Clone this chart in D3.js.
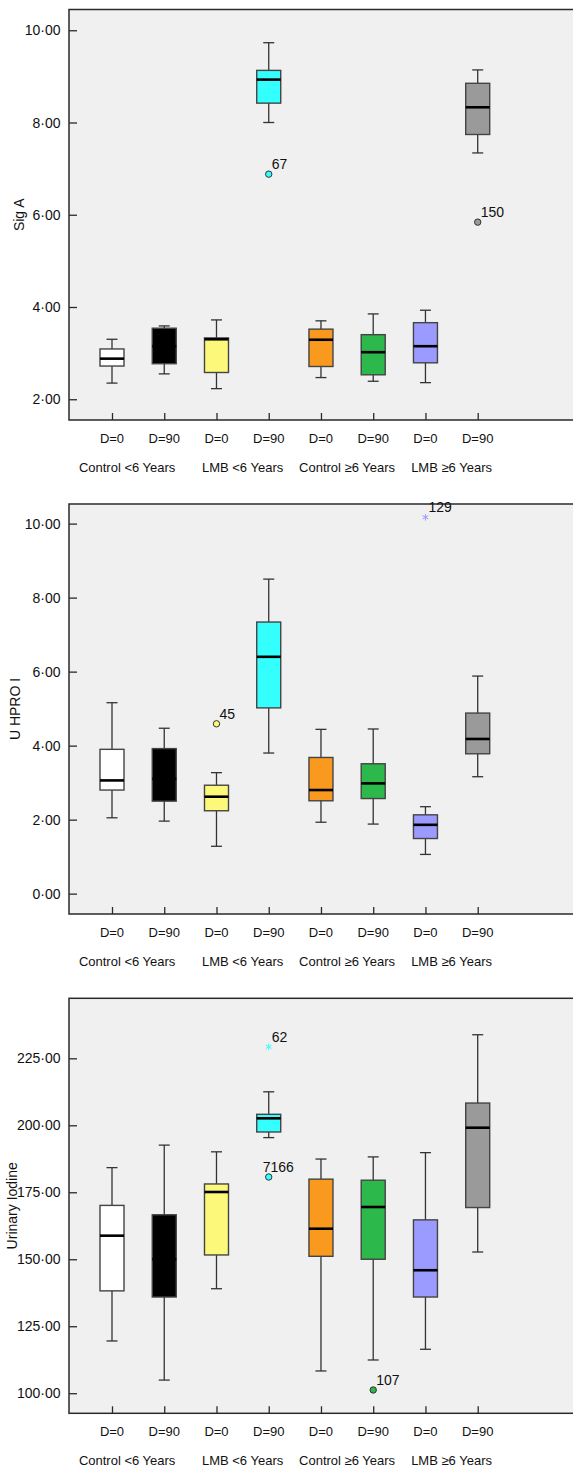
<!DOCTYPE html>
<html lang="en">
<head>
    <meta charset="UTF-8">
    <title>Box plots</title>
    <script src="https://d3js.org/d3.v7.min.js"></script>
    <style>
        body { margin: 0; background: #fff; }
        text { font-family: "Liberation Sans", Arial, sans-serif; fill: #111; }
    </style>
</head>
<body>
    <div id="chart-container"></div>

    <script>
        // categories
        const dayLabels = ["D=0", "D=90", "D=0", "D=90", "D=0", "D=90", "D=0", "D=90"];
        const groupLabels = ["Control <6 Years", "LMB <6 Years", "Control \u22656 Years", "LMB \u22656 Years"];
        const boxColors = ["#ffffff", "#000000", "#fbf87a", "#33ffff", "#f99a1e", "#2db84b", "#9b9bff", "#9a9a9a"];

        // [low whisker, q1, median, q3, high whisker]
        const sigABoxes = [
            [2.35, 2.72, 2.88, 3.09, 3.30],
            [2.55, 2.77, 3.15, 3.54, 3.59],
            [2.23, 2.58, 3.30, 3.33, 3.72],
            [8.00, 8.42, 8.93, 9.13, 9.73],
            [2.47, 2.71, 3.29, 3.52, 3.70],
            [2.39, 2.53, 3.02, 3.40, 3.85],
            [2.36, 2.79, 3.15, 3.66, 3.93],
            [7.34, 7.74, 8.33, 8.85, 9.14]
        ];
        const sigAOutliers = [
            { box: 3, value: 6.88, label: "67", kind: "circle" },
            { box: 7, value: 5.84, label: "150", kind: "circle" }
        ];
        const sigATicks = [2, 4, 6, 8, 10];

        const hproBoxes = [
            [2.05, 2.80, 3.06, 3.90, 5.16],
            [1.96, 2.50, 3.10, 3.92, 4.47],
            [1.28, 2.24, 2.62, 2.93, 3.27],
            [3.80, 5.02, 6.40, 7.34, 8.50],
            [1.93, 2.51, 2.80, 3.68, 4.44],
            [1.88, 2.57, 2.98, 3.51, 4.45],
            [1.06, 1.49, 1.86, 2.13, 2.35],
            [3.16, 3.78, 4.18, 4.88, 5.88]
        ];
        const hproOutliers = [
            { box: 2, value: 4.59, label: "45", kind: "circle" },
            { box: 6, value: 10.17, label: "129", kind: "star" }
        ];
        const hproTicks = [0, 2, 4, 6, 8, 10];

        const iodineBoxes = [
            [119.5, 138.2, 158.8, 170.1, 184.2],
            [104.9, 135.9, 150.0, 166.6, 192.6],
            [139.0, 151.6, 175.1, 178.1, 190.1],
            [195.4, 197.5, 202.6, 204.1, 212.5],
            [108.3, 151.1, 161.4, 179.9, 187.4],
            [112.4, 150.0, 169.5, 179.5, 188.2],
            [116.4, 135.9, 145.9, 164.7, 189.8],
            [152.7, 169.3, 199.1, 208.3, 233.8]
        ];
        const iodineOutliers = [
            { box: 3, value: 229.3, label: "62", kind: "star" },
            { box: 3, value: 180.7, label: "7166", kind: "circle" },
            { box: 5, value: 101.2, label: "107", kind: "circle" }
        ];
        const iodineTicks = [100, 125, 150, 175, 200, 225];

        const panels = [
            { title: "Sig A", boxes: sigABoxes, outliers: sigAOutliers, ticks: sigATicks,
              domain: [1.55, 10.45], top: 9.5, bottom: 420, titleX: 19 },
            { title: "U HPRO I", boxes: hproBoxes, outliers: hproOutliers, ticks: hproTicks,
              domain: [-0.55, 10.53], top: 504, bottom: 914, titleX: 15.5 },
            { title: "Urinary Iodine", boxes: iodineBoxes, outliers: iodineOutliers, ticks: iodineTicks,
              domain: [92.5, 247.4], top: 998.3, bottom: 1413.3, titleX: 12 }
        ];

        const W = 573, H = 1470;
        const plotLeft = 69;
        const boxW = 24, capW = 11;
        const fmt = v => d3.format(".2f")(v).replace(".", "\u00b7");

        const svg = d3.select("#chart-container")
            .append("svg")
            .attr("width", W)
            .attr("height", H);

        const x = d3.scalePoint()
            .domain(d3.range(dayLabels.length))
            .range([112, 477.7]);

        panels.forEach(p => {
            const y = d3.scaleLinear().domain(p.domain).range([p.bottom, p.top]);
            const g = svg.append("g");

            // plot background and frame
            g.append("rect")
                .attr("x", plotLeft)
                .attr("y", p.top)
                .attr("width", W + 5 - plotLeft)
                .attr("height", p.bottom - p.top)
                .attr("fill", "#f0f0f0")
                .attr("stroke", "#2a2a2a")
                .attr("stroke-width", 1.5);

            // y axis (ticks pointing inward)
            const yAxis = d3.axisRight(y).tickValues(p.ticks).tickSize(8).tickFormat("");
            g.append("g")
                .attr("transform", `translate(${plotLeft},0)`)
                .call(yAxis)
                .call(a => a.select(".domain").remove())
                .call(a => a.selectAll("line").attr("stroke", "#2a2a2a").attr("stroke-width", 1.3));

            g.selectAll(".ylab")
                .data(p.ticks)
                .enter().append("text")
                .attr("x", plotLeft - 8.5)
                .attr("y", d => y(d) + 5)
                .attr("text-anchor", "end")
                .style("font-size", "14px")
                .text(fmt);

            // x axis (ticks pointing up into the plot)
            const xAxis = d3.axisTop(x).tickSize(7).tickFormat("");
            g.append("g")
                .attr("transform", `translate(0,${p.bottom})`)
                .call(xAxis)
                .call(a => a.select(".domain").remove())
                .call(a => a.selectAll("line").attr("stroke", "#2a2a2a").attr("stroke-width", 1.3));

            g.selectAll(".dlab")
                .data(dayLabels)
                .enter().append("text")
                .attr("x", (d, i) => x(i))
                .attr("y", p.bottom + 23)
                .attr("text-anchor", "middle")
                .style("font-size", "13px")
                .text(d => d);

            g.selectAll(".glab")
                .data(groupLabels)
                .enter().append("text")
                .attr("x", (d, i) => (x(2 * i) + x(2 * i + 1)) / 2 - (i === 0 ? 11 : 0))
                .attr("y", p.bottom + 52)
                .attr("text-anchor", "middle")
                .style("font-size", "13px")
                .text(d => d);

            // axis title
            g.append("text")
                .attr("transform", `translate(${p.titleX},${(p.top + p.bottom) / 2}) rotate(-90)`)
                .attr("text-anchor", "middle")
                .attr("dy", "0.35em")
                .style("font-size", "14px")
                .text(p.title);

            // boxes
            const bx = g.selectAll(".box")
                .data(p.boxes)
                .enter().append("g");

            bx.append("line")
                .attr("x1", (d, i) => x(i)).attr("x2", (d, i) => x(i))
                .attr("y1", d => y(d[0])).attr("y2", d => y(d[4]))
                .attr("stroke", "#333").attr("stroke-width", 1.3);

            bx.append("line")
                .attr("x1", (d, i) => x(i) - capW / 2).attr("x2", (d, i) => x(i) + capW / 2)
                .attr("y1", d => y(d[0])).attr("y2", d => y(d[0]))
                .attr("stroke", "#333").attr("stroke-width", 1.3);

            bx.append("line")
                .attr("x1", (d, i) => x(i) - capW / 2).attr("x2", (d, i) => x(i) + capW / 2)
                .attr("y1", d => y(d[4])).attr("y2", d => y(d[4]))
                .attr("stroke", "#333").attr("stroke-width", 1.3);

            bx.append("rect")
                .attr("x", (d, i) => x(i) - boxW / 2)
                .attr("y", d => y(d[3]))
                .attr("width", boxW)
                .attr("height", d => y(d[1]) - y(d[3]))
                .attr("fill", (d, i) => boxColors[i])
                .attr("stroke", "#444")
                .attr("stroke-width", 1.4);

            bx.append("line")
                .attr("x1", (d, i) => x(i) - boxW / 2).attr("x2", (d, i) => x(i) + boxW / 2)
                .attr("y1", d => y(d[2])).attr("y2", d => y(d[2]))
                .attr("stroke", "#000").attr("stroke-width", 2.6);

            // outliers
            p.outliers.forEach(o => {
                const cx = x(o.box), cy = y(o.value);
                if (o.kind === "circle") {
                    g.append("circle")
                        .attr("cx", cx).attr("cy", cy).attr("r", 3.2)
                        .attr("fill", boxColors[o.box])
                        .attr("stroke", "#333").attr("stroke-width", 1);
                } else {
                    g.append("path")
                        .attr("d", d3.symbol(d3.symbolAsterisk, 30)())
                        .attr("transform", `translate(${cx},${cy})`)
                        .attr("fill", "none")
                        .attr("stroke", boxColors[o.box])
                        .attr("stroke-width", 1);
                }
                g.append("text")
                    .attr("x", o.label.length > 3 ? cx - 6 : cx + 3)
                    .attr("y", cy - 5)
                    .style("font-size", "14px")
                    .text(o.label);
            });
        });
    </script>
</body>
</html>
